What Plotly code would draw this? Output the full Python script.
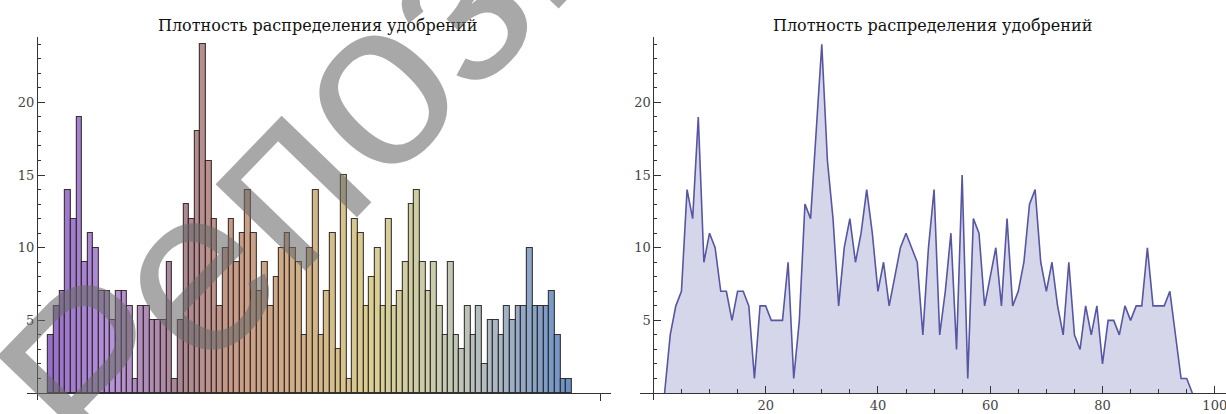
import numpy as np
import plotly.graph_objects as go

# ---- data ----
counts = [4, 6, 7, 14, 12, 19, 9, 11, 10, 7,
          7, 5, 7, 7, 6, 1, 6, 6, 5, 5,
          5, 9, 1, 5, 13, 12, 18, 24, 16, 12,
          6, 10, 12, 9, 11, 14, 11, 7, 9, 6,
          8, 10, 11, 10, 9, 4, 10, 14, 4, 7,
          11, 3, 15, 1, 12, 11, 6, 8, 10, 6,
          12, 6, 7, 9, 13, 14, 9, 7, 9, 6,
          4, 9, 4, 3, 6, 4, 6, 2, 5, 5,
          4, 6, 5, 6, 6, 10, 6, 6, 6, 7,
          4, 1, 1]
bin_start = 2
bin_width = 1
title_text = "Плотность распределения удобрений"
y_ticks = [5, 10, 15, 20]
x_ticks_right = [20, 40, 60, 80, 100]
watermark = "Репозиторий"

n = len(counts)
bar_x = bin_start + bin_width * (np.arange(n) + 0.5)
line_x = bin_start + bin_width * np.arange(n + 2)
line_y = [0] + counts + [0]

# gradient colours for bars
stops = [(0.00, (150, 112, 200)), (0.12, (182, 148, 218)), (0.25, (170, 135, 148)),
         (0.35, (200, 155, 135)), (0.50, (210, 180, 135)), (0.62, (218, 208, 148)),
         (0.75, (200, 205, 175)), (0.86, (170, 185, 198)), (1.00, (105, 145, 198))]
def grad(t):
    for (t0, c0), (t1, c1) in zip(stops[:-1], stops[1:]):
        if t <= t1:
            f = (t - t0) / (t1 - t0)
            return "rgb(%d,%d,%d)" % tuple(int(a + (b - a) * f) for a, b in zip(c0, c1))
    return "rgb(%d,%d,%d)" % stops[-1][1]
bar_colors = [grad(i / (n - 1)) for i in range(n)]

W, H = 1226, 414
def px(v):
    return v / W
def py(v):
    return (H - v) / H

fig = go.Figure()
fig.add_trace(go.Bar(x=bar_x, y=counts, width=bin_width,
                     marker=dict(color=bar_colors, line=dict(color="rgba(40,30,30,0.9)", width=1.1)),
                     xaxis="x", yaxis="y", showlegend=False))
fig.add_trace(go.Scatter(x=line_x, y=line_y, mode="lines", fill="tozeroy",
                         fillcolor="rgba(200,200,228,0.75)",
                         line=dict(color="#5656a2", width=1.6),
                         xaxis="x2", yaxis="y2", showlegend=False))

axcol = "#333333"
tickfont = dict(family="DejaVu Serif", size=13, color="#444444")
yrange = [-0.5, 24.5]
ydom = [py(400.3), py(37)]
xaxis_pos = py(393)

common_y = dict(range=yrange, domain=ydom, anchor="free", showline=True, linecolor=axcol,
                linewidth=1, showgrid=False, zeroline=False, tickvals=y_ticks,
                ticks="inside", ticklen=7, tickcolor=axcol, tickfont=tickfont,
                minor=dict(dtick=1, ticks="inside", ticklen=3, tickcolor=axcol))

fig.update_layout(
    width=W, height=H, margin=dict(l=0, r=0, t=0, b=0),
    paper_bgcolor="white", plot_bgcolor="rgba(0,0,0,0)", bargap=0,
    xaxis=dict(range=[-1.8, 102], domain=[px(26.9), px(611.3)], anchor="free",
               position=xaxis_pos, showline=True, linecolor=axcol, linewidth=1,
               showgrid=False, zeroline=False, tickvals=[100], ticktext=[""],
               ticks="outside", ticklen=7, tickcolor=axcol),
    yaxis=dict(position=px(37), **common_y),
    xaxis2=dict(range=[-2.4, 102], domain=[px(639.9), 1.0], anchor="free",
                position=xaxis_pos, showline=True, linecolor=axcol, linewidth=1,
                showgrid=False, zeroline=False, tickvals=x_ticks_right,
                ticks="inside", ticklen=7, tickcolor=axcol, tickfont=tickfont,
                ticklabeloverflow="allow",
                minor=dict(dtick=5, ticks="inside", ticklen=4, tickcolor=axcol)),
    yaxis2=dict(position=px(653.4), **common_y),
)

for cx in (317.5, 932):
    fig.add_annotation(text=title_text, x=px(cx), y=py(26), xref="paper", yref="paper",
                       showarrow=False, xanchor="center", yanchor="middle",
                       font=dict(family="DejaVu Serif", size=16, color="#111111"))

fig.add_annotation(text=watermark, x=px(530), y=py(-80), xref="paper", yref="paper",
                   showarrow=False, xanchor="center", yanchor="middle", textangle=-46,
                   font=dict(family="Liberation Sans", size=236,
                             color="rgba(105,105,105,0.58)"))

fig.write_html("out.html", config={"displayModeBar": False},
               post_script="document.body.style.margin='0';document.body.style.overflow='hidden';")
